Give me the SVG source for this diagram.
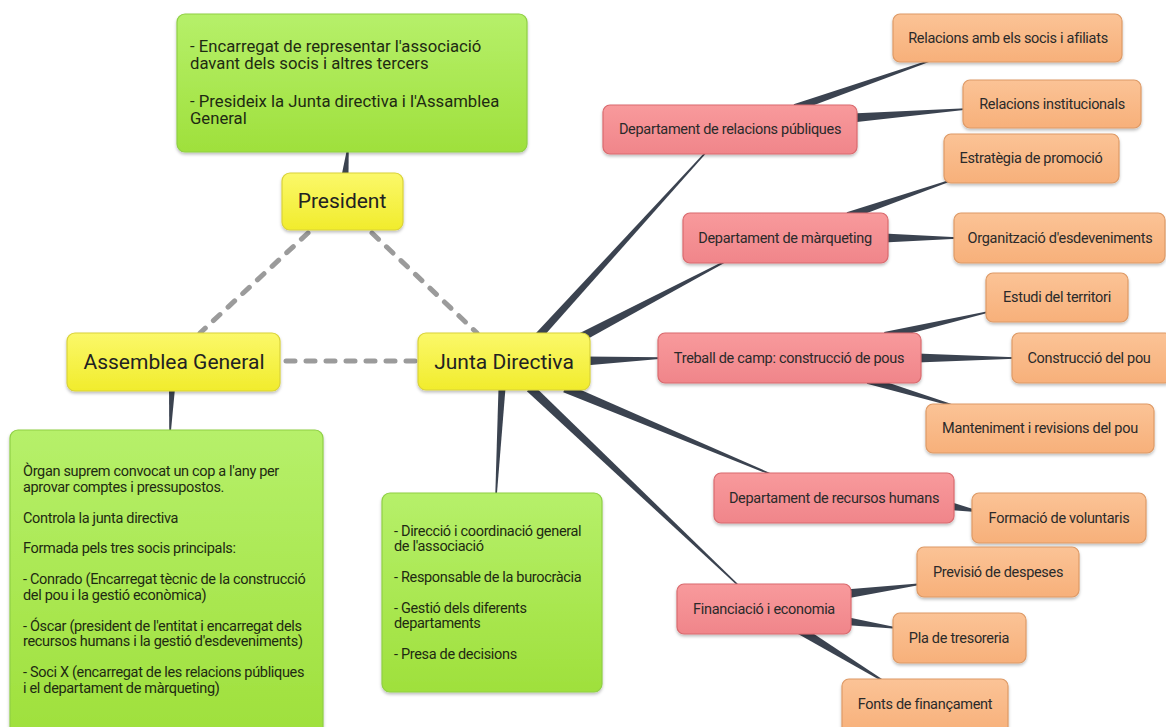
<svg xmlns="http://www.w3.org/2000/svg" width="1166" height="727" viewBox="0 0 1166 727">
<defs>
<linearGradient id="gY" x1="0" y1="0" x2="0" y2="1"><stop offset="0" stop-color="#fbf86a"/><stop offset="1" stop-color="#f1ec2c"/></linearGradient>
<linearGradient id="gG" x1="0" y1="0" x2="0" y2="1"><stop offset="0" stop-color="#b6f06a"/><stop offset="1" stop-color="#9fe03c"/></linearGradient>
<linearGradient id="gR" x1="0" y1="0" x2="0" y2="1"><stop offset="0" stop-color="#f89a9c"/><stop offset="1" stop-color="#f0858a"/></linearGradient>
<linearGradient id="gO" x1="0" y1="0" x2="0" y2="1"><stop offset="0" stop-color="#fbc396"/><stop offset="1" stop-color="#f7b07a"/></linearGradient>
<filter id="sh" x="-10%" y="-10%" width="120%" height="130%"><feDropShadow dx="0" dy="2" stdDeviation="1.5" flood-color="#000" flood-opacity="0.25"/></filter>
</defs>
<style>
.y{fill:url(#gY);stroke:#d9d23a;stroke-width:1.2;filter:url(#sh)}
.g{fill:url(#gG);stroke:#8fcf45;stroke-width:1.2;filter:url(#sh)}
.r{fill:url(#gR);stroke:#d96a6e;stroke-width:1.2;filter:url(#sh)}
.o{fill:url(#gO);stroke:#de9a66;stroke-width:1.2;filter:url(#sh)}
text{font-family:Roboto,"Liberation Sans",sans-serif;fill:#2a2a2a}
.ty{font-size:21px;text-anchor:middle;fill:#222}
.tn{font-size:14.5px;text-anchor:middle;letter-spacing:-0.3px}
.tg{font-size:16.7px;fill:#1e2a12}
.ts{font-size:14.5px;letter-spacing:-0.33px;fill:#1e2a12}
.w{fill:#3b4350;stroke:none}
.d{fill:none;stroke:#9b9b9b;stroke-width:5;stroke-dasharray:9 11;stroke-linecap:round}
</style>
<g id="connectors">
<line class="d" x1="308" y1="233" x2="200" y2="333"/>
<line class="d" x1="372" y1="233" x2="477" y2="333"/>
<line class="d" x1="286" y1="361" x2="416" y2="361"/>
<polygon class="w" points="537.96,342.69 708.55,150.5 707.45,149.5 532.04,337.31"/>
<polygon class="w" points="582.1,341.98 728.35,260.66 727.65,259.34 577.9,334.02"/>
<polygon class="w" points="585.18,365.5 662.03,358.75 661.97,357.25 584.82,356.5"/>
<polygon class="w" points="563.26,392.15 774.71,476.69 775.29,475.31 566.74,383.85"/>
<polygon class="w" points="526.9,391.27 739.48,587.54 740.52,586.46 533.1,384.73"/>
<polygon class="w" points="498.51,387.81 495.25,495.96 496.75,496.04 505.49,388.19"/>
<polygon class="w" points="348.48,176.37 348.75,148.08 347.25,147.92 341.52,175.63"/>
<polygon class="w" points="169,387.87 169.25,432.97 170.75,433.03 175,388.13"/>
<polygon class="w" points="796.32,111.77 932.25,60.71 931.75,59.29 793.68,104.23"/>
<polygon class="w" points="852.35,122.49 966.06,109.75 965.94,108.25 851.65,113.51"/>
<polygon class="w" points="849.31,219.78 952.25,180.71 951.75,179.29 846.69,212.22"/>
<polygon class="w" points="884,242.5 957,238.75 957,237.25 884,233.5"/>
<polygon class="w" points="885.91,339.9 988.17,312.73 987.83,311.27 884.09,332.1"/>
<polygon class="w" points="917,362.5 1015,358.75 1015,357.25 917,353.5"/>
<polygon class="w" points="866.85,383.83 957.78,407.72 958.22,406.28 869.15,376.17"/>
<polygon class="w" points="949.25,509.93 975.81,511.98 976.19,510.02 950.75,502.07"/>
<polygon class="w" points="846.59,598.46 921.1,584.74 920.9,583.26 845.41,589.54"/>
<polygon class="w" points="845.45,624.96 895.9,628.74 896.1,627.26 846.55,617.04"/>
<polygon class="w" points="797.65,633.84 884.61,682.64 885.39,681.36 802.35,626.16"/>
</g>
<g id="president-note"><rect class="g" x="177" y="14" width="350" height="138" rx="8"/>
<text class="tg" x="190" y="52">- Encarregat de representar l'associació</text>
<text class="tg" x="190" y="69">davant dels socis i altres tercers</text>
<text class="tg" x="190" y="107">- Presideix la Junta directiva i l'Assamblea</text>
<text class="tg" x="190" y="124">General</text></g>
<g id="president"><rect class="y" x="282" y="173" width="121" height="57" rx="8"/><text class="ty" x="342" y="208">President</text></g>
<g id="assemblea"><rect class="y" x="67" y="333" width="213" height="58" rx="8"/><text class="ty" x="174" y="369">Assemblea General</text></g>
<g id="junta"><rect class="y" x="418" y="333" width="172" height="57" rx="8"/><text class="ty" x="504" y="369">Junta Directiva</text></g>
<g id="assemblea-note"><rect class="g" x="10" y="430" width="313" height="305" rx="8"/>
<text class="ts" x="23" y="476">Òrgan suprem convocat un cop a l'any per</text>
<text class="ts" x="23" y="492">aprovar comptes i pressupostos.</text>
<text class="ts" x="23" y="523">Controla la junta directiva</text>
<text class="ts" x="23" y="553">Formada pels tres socis principals:</text>
<text class="ts" x="23" y="584">- Conrado (Encarregat tècnic de la construcció</text>
<text class="ts" x="23" y="600">del pou i la gestió econòmica)</text>
<text class="ts" x="23" y="631">- Óscar (president de l'entitat i encarregat dels</text>
<text class="ts" x="23" y="646">recursos humans i la gestió d'esdeveniments)</text>
<text class="ts" x="23" y="677">- Soci X (encarregat de les relacions públiques</text>
<text class="ts" x="23" y="693">i el departament de màrqueting)</text></g>
<g id="junta-note"><rect class="g" x="382" y="493" width="220" height="199" rx="8"/>
<text class="ts" x="394" y="536">- Direcció i coordinació general</text>
<text class="ts" x="394" y="551">de l'associació</text>
<text class="ts" x="394" y="582">- Responsable de la burocràcia</text>
<text class="ts" x="394" y="613">- Gestió dels diferents</text>
<text class="ts" x="394" y="628">departaments</text>
<text class="ts" x="394" y="659">- Presa de decisions</text></g>
<g id="rp"><rect class="r" x="603" y="105" width="254" height="49" rx="7"/><text class="tn" x="730" y="134">Departament de relacions públiques</text></g>
<g id="mk"><rect class="r" x="683" y="213" width="205" height="50" rx="7"/><text class="tn" x="785" y="243">Departament de màrqueting</text></g>
<g id="tc"><rect class="r" x="658" y="333" width="263" height="50" rx="7"/><text class="tn" x="789" y="363">Treball de camp: construcció de pous</text></g>
<g id="rh"><rect class="r" x="714" y="473" width="240" height="50" rx="7"/><text class="tn" x="834" y="503">Departament de recursos humans</text></g>
<g id="fi"><rect class="r" x="677" y="584" width="174" height="50" rx="7"/><text class="tn" x="764" y="614">Financiació i economia</text></g>
<g id="o1"><rect class="o" x="893" y="14" width="229" height="48" rx="7"/><text class="tn" x="1008" y="43">Relacions amb els socis i afiliats</text></g>
<g id="o2"><rect class="o" x="963" y="80" width="178" height="48" rx="7"/><text class="tn" x="1052" y="109">Relacions institucionals</text></g>
<g id="o3"><rect class="o" x="944" y="134" width="175" height="49" rx="7"/><text class="tn" x="1031" y="163">Estratègia de promoció</text></g>
<g id="o4"><rect class="o" x="954" y="213" width="211" height="50" rx="7"/><text class="tn" x="1060" y="243">Organització d'esdeveniments</text></g>
<g id="o5"><rect class="o" x="986" y="273" width="142" height="49" rx="7"/><text class="tn" x="1057" y="302">Estudi del territori</text></g>
<g id="o6"><rect class="o" x="1012" y="333" width="160" height="50" rx="7"/><text class="tn" x="1089" y="363">Construcció del pou</text></g>
<g id="o7"><rect class="o" x="926" y="404" width="228" height="49" rx="7"/><text class="tn" x="1040" y="433">Manteniment i revisions del pou</text></g>
<g id="o8"><rect class="o" x="972" y="493" width="174" height="50" rx="7"/><text class="tn" x="1059" y="523">Formació de voluntaris</text></g>
<g id="o9"><rect class="o" x="917" y="547" width="162" height="50" rx="7"/><text class="tn" x="998" y="577">Previsió de despeses</text></g>
<g id="o10"><rect class="o" x="893" y="613" width="133" height="50" rx="7"/><text class="tn" x="959" y="643">Pla de tresoreria</text></g>
<g id="o11"><rect class="o" x="842" y="679" width="166" height="55" rx="7"/><text class="tn" x="925" y="709">Fonts de finançament</text></g>
</svg>
